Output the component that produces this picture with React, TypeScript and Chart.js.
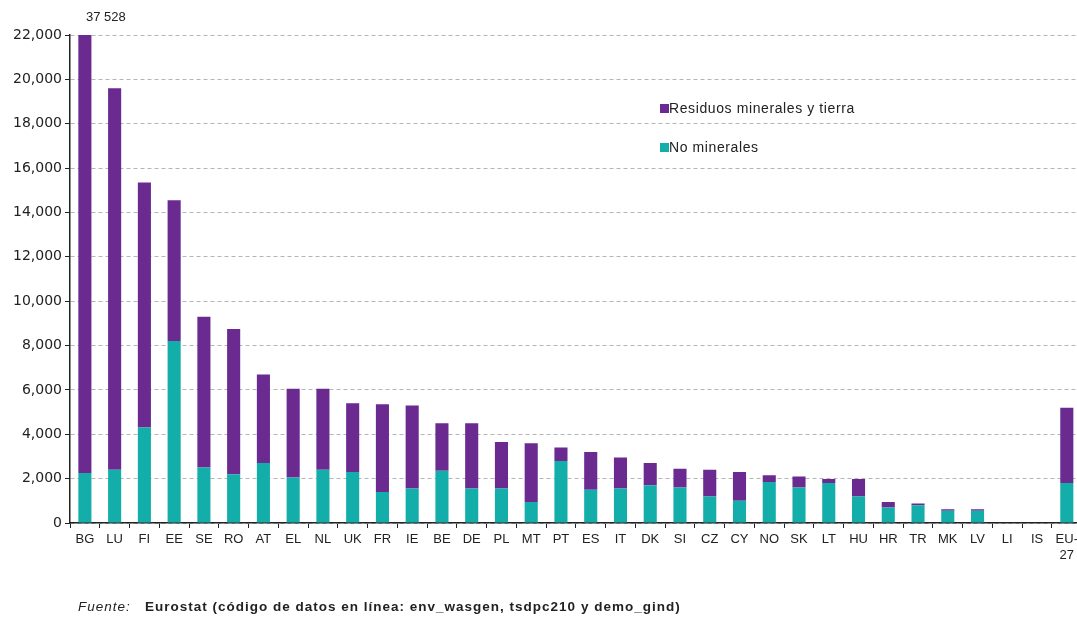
import { useEffect, useRef } from "react";
import { Chart, registerables } from "chart.js";

Chart.register(...registerables);

const categories: (string | string[])[] = [
  "BG", "LU", "FI", "EE", "SE", "RO", "AT", "EL", "NL", "UK", "FR", "IE",
  "BE", "DE", "PL", "MT", "PT", "ES", "IT", "DK", "SI", "CZ", "CY", "NO",
  "SK", "LT", "HU", "HR", "TR", "MK", "LV", "LI", "IS", ["EU-", "27"],
];

// lower (teal) part of each bar
const noMinerales = [
  2250, 2400, 4300, 8200, 2500, 2200, 2700, 2050, 2400, 2300, 1400, 1550,
  2350, 1550, 1550, 950, 2800, 1500, 1550, 1700, 1600, 1200, 1000, 1850,
  1600, 1800, 1200, 700, 800, 550, 550, 0, 0, 1800,
];

// upper (purple) part of each bar
const residuosMinerales = [
  35278, 17200, 11050, 6350, 6800, 6550, 4000, 4000, 3650, 3100, 3950, 3750,
  2150, 2950, 2100, 2650, 600, 1700, 1400, 1000, 850, 1200, 1300, 300,
  500, 180, 780, 250, 80, 70, 70, 0, 0, 3400,
];

const yTicks = { min: 0, max: 22000, step: 2000 };

const PURPLE = "#6a2a90";
const TEAL = "#14aeaa";

// legend drawn inside the plot, plus the value label of the clipped first bar
const overlayPlugin = {
  id: "overlay",
  afterDraw(chart: Chart) {
    const { ctx, chartArea } = chart;
    ctx.save();

    const items = [chart.data.datasets[1], chart.data.datasets[0]];
    const lx = chartArea.left + 590;
    items.forEach((ds, i) => {
      const ly = chartArea.top + 74 + i * 39;
      ctx.fillStyle = ds.backgroundColor as string;
      ctx.fillRect(lx, ly - 5, 9, 9);
      ctx.fillStyle = "#222";
      ctx.font = "14px 'Liberation Sans', Arial, sans-serif";
      (ctx as any).letterSpacing = "0.6px";
      ctx.textBaseline = "middle";
      ctx.textAlign = "left";
      ctx.fillText(ds.label as string, lx + 9, ly);
    });
    (ctx as any).letterSpacing = "0px";

    // first bar runs off the axis: write its full total above it
    const bar = chart.getDatasetMeta(1).data[0];
    const total = noMinerales[0] + residuosMinerales[0];
    const label = total.toLocaleString("en-US").replace(",", " ");
    ctx.fillStyle = "#222";
    ctx.font = "13px 'Liberation Sans', Arial, sans-serif";
    ctx.textAlign = "center";
    ctx.textBaseline = "middle";
    ctx.fillText(label, bar.x + 21, chartArea.top - 18);

    ctx.restore();
  },
};

const App = () => {
  const canvasRef = useRef<HTMLCanvasElement | null>(null);
  const chartRef = useRef<Chart | null>(null);

  useEffect(() => {
    if (!canvasRef.current) return;
    if (chartRef.current) chartRef.current.destroy();

    chartRef.current = new Chart(canvasRef.current, {
      type: "bar",
      data: {
        labels: categories,
        datasets: [
          {
            label: "No minerales",
            data: noMinerales,
            backgroundColor: TEAL,
            barPercentage: 0.44,
            categoryPercentage: 1,
          },
          {
            label: "Residuos minerales y tierra",
            data: residuosMinerales,
            backgroundColor: PURPLE,
            barPercentage: 0.44,
            categoryPercentage: 1,
          },
        ],
      },
      options: {
        animation: false,
        responsive: true,
        maintainAspectRatio: false,
        layout: { padding: { top: 35, left: 0, right: 0, bottom: 0 } },
        plugins: {
          legend: { display: false },
          tooltip: { enabled: false },
        },
        scales: {
          x: {
            stacked: true,
            afterFit: (scale: any) => {
              scale.height = 96;
            },
            grid: {
              display: true,
              drawOnChartArea: false,
              drawTicks: true,
              tickLength: 5,
              tickColor: "#222",
              offset: true,
            },
            border: { display: true, color: "#222", width: 1.5 },
            ticks: {
              color: "#222",
              padding: 4,
              maxRotation: 0,
              autoSkip: false,
              font: { family: "'Liberation Sans', Arial, sans-serif", size: 13 },
            },
          },
          y: {
            stacked: true,
            min: yTicks.min,
            max: yTicks.max,
            afterFit: (scale: any) => {
              scale.width = 70;
            },
            grid: {
              color: "#b5b5b5",
              tickColor: "#222",
              tickLength: 5,
              tickBorderDash: [],
            },
            border: { display: true, color: "#222", width: 1.5, dash: [4, 3] },
            ticks: {
              stepSize: yTicks.step,
              color: "#222",
              padding: 3,
              font: { family: "'DejaVu Sans', Verdana, sans-serif", size: 14 },
              callback: (v: any) => Number(v).toLocaleString("en-US"),
            },
          },
        },
      },
      plugins: [overlayPlugin],
    });

    return () => {
      if (chartRef.current) {
        chartRef.current.destroy();
        chartRef.current = null;
      }
    };
  }, []);

  return (
    <div
      style={{
        position: "fixed",
        left: 0,
        top: 0,
        width: 1077,
        height: 619,
        overflow: "hidden",
        background: "#fff",
      }}
    >
      <div style={{ position: "absolute", left: 0, top: 0, width: 1082, height: 619 }}>
        <canvas ref={canvasRef} />
      </div>
      <div
        style={{
          position: "absolute",
          left: 78,
          top: 599,
          fontFamily: "'Liberation Sans', Arial, sans-serif",
          fontSize: 13.5,
          fontWeight: "bold",
          letterSpacing: 1,
          color: "#222",
          whiteSpace: "nowrap",
        }}
      >
        <i style={{ fontWeight: "normal" }}>Fuente:</i>&nbsp;&nbsp; Eurostat (código de datos en línea: env_wasgen, tsdpc210 y demo_gind)
      </div>
    </div>
  );
};

export default App;
